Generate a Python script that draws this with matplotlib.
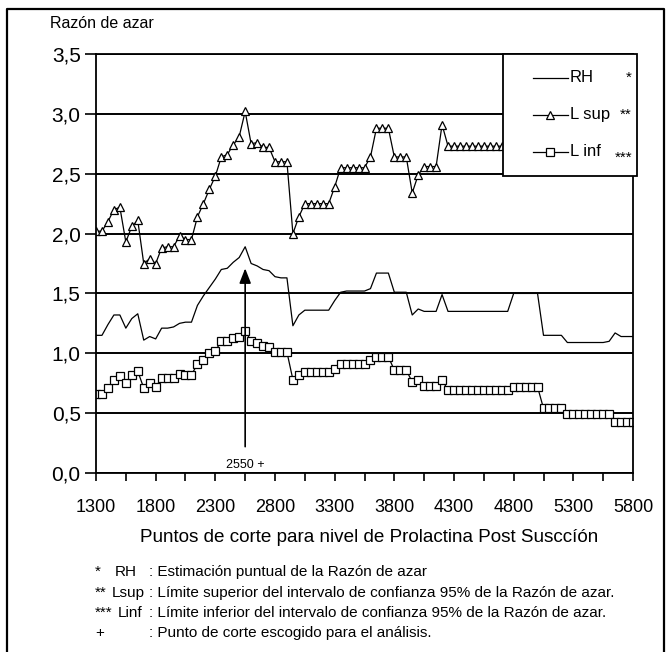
import numpy as np
import matplotlib
matplotlib.use('Agg')
import matplotlib.pyplot as plt
from matplotlib.lines import Line2D
from matplotlib.patches import Rectangle
from matplotlib.ticker import FixedLocator

plt.rcParams['font.family'] = ['Liberation Sans Narrow', 'Liberation Sans', 'DejaVu Sans']

# puntos de corte (categorias del eje x)
cortes = list(range(1300, 5850, 50))

# RH: estimacion puntual
rh = [1.15, 1.15, 1.24, 1.32, 1.32, 1.21, 1.29, 1.33, 1.11, 1.14,
      1.12, 1.21, 1.21, 1.22, 1.25, 1.26, 1.26, 1.40, 1.48, 1.55,
      1.62, 1.70, 1.71, 1.76, 1.80, 1.89, 1.75, 1.73, 1.70, 1.69,
      1.64, 1.63, 1.63, 1.23, 1.32, 1.36, 1.36, 1.36, 1.36, 1.36,
      1.44, 1.51, 1.52, 1.52, 1.52, 1.52, 1.54, 1.67, 1.67, 1.67,
      1.51, 1.51, 1.51, 1.32, 1.37, 1.35, 1.35, 1.35, 1.49, 1.35,
      1.35, 1.35, 1.35, 1.35, 1.35, 1.35, 1.35, 1.35, 1.35, 1.35,
      1.50, 1.50, 1.50, 1.50, 1.50, 1.15, 1.15, 1.15, 1.15, 1.09,
      1.09, 1.09, 1.09, 1.09, 1.09, 1.09, 1.10, 1.17, 1.14, 1.14,
      1.14]

# L sup: limite superior IC 95% (lo que queda tras la leyenda no se ve)
lsup = [2.02, 2.02, 2.10, 2.20, 2.22, 1.93, 2.06, 2.11, 1.75, 1.79,
        1.75, 1.88, 1.89, 1.89, 1.98, 1.95, 1.95, 2.14, 2.25, 2.37,
        2.48, 2.64, 2.66, 2.74, 2.81, 3.02, 2.75, 2.76, 2.72, 2.72,
        2.60, 2.60, 2.60, 2.00, 2.14, 2.25, 2.25, 2.25, 2.25, 2.25,
        2.39, 2.55, 2.55, 2.55, 2.55, 2.55, 2.64, 2.88, 2.88, 2.88,
        2.64, 2.64, 2.64, 2.34, 2.49, 2.56, 2.56, 2.56, 2.91, 2.73,
        2.73, 2.73, 2.73, 2.73, 2.73, 2.73, 2.73, 2.73, 2.73, 2.73,
        2.73] + [np.nan] * 20

# L inf: limite inferior IC 95%
linf = [0.66, 0.66, 0.71, 0.78, 0.81, 0.75, 0.82, 0.85, 0.71, 0.75,
        0.72, 0.79, 0.79, 0.79, 0.83, 0.82, 0.82, 0.91, 0.94, 1.00,
        1.02, 1.10, 1.10, 1.13, 1.14, 1.19, 1.10, 1.09, 1.06, 1.05,
        1.01, 1.01, 1.01, 0.78, 0.82, 0.84, 0.84, 0.84, 0.84, 0.84,
        0.87, 0.91, 0.91, 0.91, 0.91, 0.91, 0.94, 0.97, 0.97, 0.97,
        0.86, 0.86, 0.86, 0.76, 0.78, 0.73, 0.73, 0.73, 0.78, 0.69,
        0.69, 0.69, 0.69, 0.69, 0.69, 0.69, 0.69, 0.69, 0.69, 0.69,
        0.72, 0.72, 0.72, 0.72, 0.72, 0.54, 0.54, 0.54, 0.54, 0.49,
        0.49, 0.49, 0.49, 0.49, 0.49, 0.49, 0.49, 0.43, 0.43, 0.43,
        0.43]

corte_elegido = 2550
x_labels = [1300, 1800, 2300, 2800, 3300, 3800, 4300, 4800, 5300, 5800]
y_labels = ['0,0', '0,5', '1,0', '1,5', '2,0', '2,5', '3,0', '3,5']

W, H = 671, 652
fig = plt.figure(figsize=(W / 100, H / 100), dpi=100)

def fx(x):
    return x / W

def fy(y):
    return 1 - y / H

ax = fig.add_axes([fx(96), fy(473), fx(633) - fx(96), fy(54) - fy(473)])

rh_style = dict(color='black', lw=0.9)
sup_style = dict(color='black', lw=0.9, marker='^', ms=6, mfc='white', mec='black', mew=0.9)
inf_style = dict(color='black', lw=0.9, marker='s', ms=5.3, mfc='white', mec='black', mew=0.9)

ax.plot(cortes, rh, **rh_style)
ax.plot(cortes, lsup, **sup_style)
ax.plot(cortes, linf, **inf_style)

ax.set_xlim(1300, 5800)
ax.set_ylim(0, 3.5)

ax.set_yticks(np.arange(0, 3.51, 0.5))
ax.set_yticklabels(y_labels)
ax.yaxis.grid(True, color='black', lw=1.4)
ax.set_axisbelow(True)

ax.set_xticks(x_labels)
ax.set_xticklabels([str(v) for v in x_labels])
ax.xaxis.set_minor_locator(FixedLocator([v + 250 for v in x_labels[:-1]]))
ax.tick_params(axis='x', which='both', direction='out', length=6, width=1.2, pad=13, labelsize=13)
ax.tick_params(axis='y', direction='out', length=8, width=1.2, pad=3, labelsize=15)
for s in ax.spines.values():
    s.set_linewidth(1.3)

# flecha del punto de corte elegido
ax.annotate('', xy=(corte_elegido, 1.71), xytext=(corte_elegido, 0.22),
            arrowprops=dict(arrowstyle='-|>,head_length=0.9,head_width=0.35',
                            color='black', lw=1.2, mutation_scale=10, shrinkA=0, shrinkB=0))
ax.text(corte_elegido, 0.07, '%d +' % corte_elegido, ha='center', va='center', fontsize=9)

fig.text(fx(50), fy(23), 'Razón de azar', ha='left', va='center', fontsize=11.5)
fig.text(fx(369), fy(537), 'Puntos de corte para nivel de Prolactina Post Susccíón',
         ha='center', va='center', fontsize=13.6)

# leyenda
fig.add_artist(Rectangle((fx(503), fy(176)), fx(637) - fx(503), fy(54) - fy(176),
                         transform=fig.transFigure, facecolor='white', edgecolor='black',
                         lw=1.3, zorder=5))
entries = [('RH', '*', rh_style, 78, 0), ('L sup', '**', sup_style, 115, 0),
           ('L inf', '***', inf_style, 152, 6)]
for name, star, style, yy, dy in entries:
    ln = Line2D([fx(533), fx(550), fx(568)], [fy(yy)] * 3, transform=fig.transFigure,
                zorder=6, markevery=[1], **style)
    fig.add_artist(ln)
    fig.text(fx(570), fy(yy), name, ha='left', va='center', fontsize=12, zorder=7)
    fig.text(fx(632), fy(yy + dy), star, ha='right', va='center', fontsize=11, zorder=7)

# notas al pie
notas = [('*', 'RH', 115, ': Estimación puntual de la Razón de azar'),
         ('**', 'Lsup', 112, ': Límite superior del intervalo de confianza 95% de la Razón de azar.'),
         ('***', 'Linf', 118, ': Límite inferior del intervalo de confianza 95% de la Razón de azar.'),
         ('+', '', 115, ': Punto de corte escogido para el análisis.')]
for i, (a, b, xb, c) in enumerate(notas):
    yy = 572 + i * 20.5
    fig.text(fx(95), fy(yy), a, ha='left', va='center', fontsize=11)
    fig.text(fx(xb), fy(yy), b, ha='left', va='center', fontsize=11)
    fig.text(fx(149), fy(yy), c, ha='left', va='center', fontsize=11)

# marco exterior
fig.add_artist(Line2D([fx(7), fx(7), fx(664), fx(664)], [fy(660), fy(9), fy(9), fy(660)],
                      transform=fig.transFigure, color='black', lw=1.6))

fig.savefig('out.png', dpi=100)
